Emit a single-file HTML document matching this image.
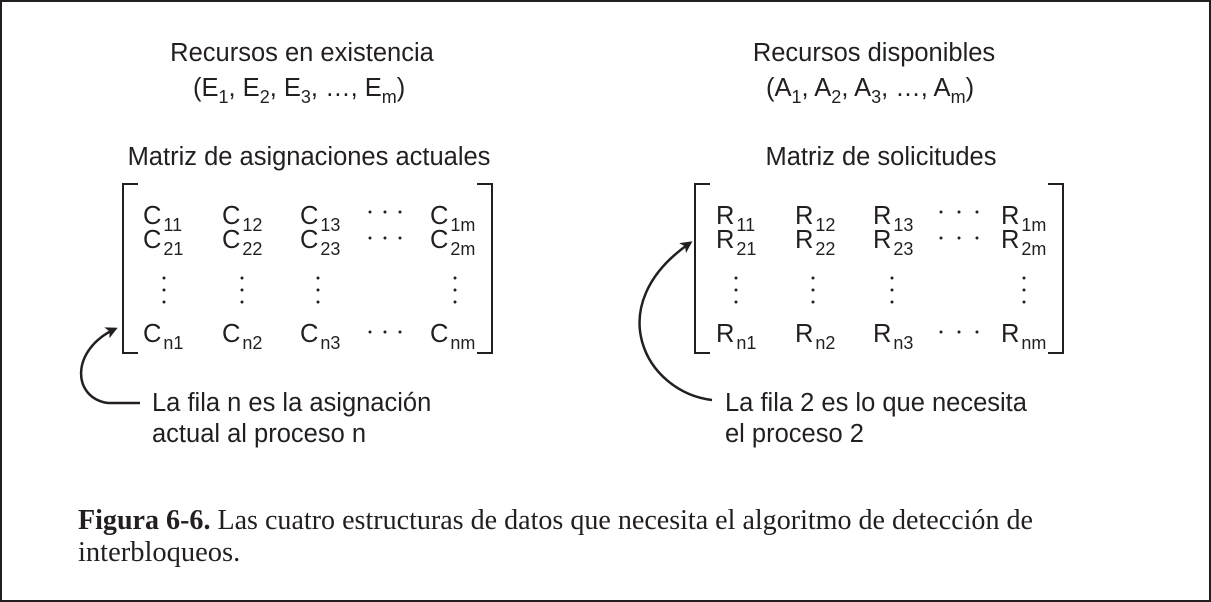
<!DOCTYPE html>
<html><head><meta charset="utf-8"><style>
html,body{margin:0;padding:0;background:#fff}
svg{display:block}
.s{font-family:"Liberation Sans",sans-serif;fill:#231f20}
.c{font-family:"Liberation Serif",serif;fill:#231f20;font-size:28.5px}
.m tspan{font-size:18px}
</style></head><body>
<svg width="1211" height="602" viewBox="0 0 1211 602" xmlns="http://www.w3.org/2000/svg">
<rect x="1" y="1" width="1209" height="600" fill="#fff" stroke="#231f20" stroke-width="2"/>
<defs><marker id="ah" markerWidth="12" markerHeight="12" refX="9" refY="6" orient="auto" markerUnits="userSpaceOnUse"><path d="M0,0 L12,6 L0,12 L3,6 Z" fill="#231f20"/></marker></defs>
<g class="s" font-size="25.5">
<text x="302" y="61" text-anchor="middle">Recursos en existencia</text>
<text x="193" y="96">(E<tspan font-size="18" dy="7">1</tspan><tspan dy="-7">, E</tspan><tspan font-size="18" dy="7">2</tspan><tspan dy="-7">, E</tspan><tspan font-size="18" dy="7">3</tspan><tspan dy="-7">, …, E</tspan><tspan font-size="18" dy="7">m</tspan><tspan dy="-7">)</tspan></text>
<text x="874" y="61" text-anchor="middle">Recursos disponibles</text>
<text x="766" y="96">(A<tspan font-size="18" dy="7">1</tspan><tspan dy="-7">, A</tspan><tspan font-size="18" dy="7">2</tspan><tspan dy="-7">, A</tspan><tspan font-size="18" dy="7">3</tspan><tspan dy="-7">, …, A</tspan><tspan font-size="18" dy="7">m</tspan><tspan dy="-7">)</tspan></text>
<text x="309" y="165" text-anchor="middle">Matriz de asignaciones actuales</text>
<text x="881" y="165" text-anchor="middle">Matriz de solicitudes</text>
<text x="152" y="411">La fila n es la asignación</text>
<text x="152" y="442">actual al proceso n</text>
<text x="725" y="411">La fila 2 es lo que necesita</text>
<text x="725" y="442">el proceso 2</text>
</g>
<g fill="none" stroke="#231f20" stroke-width="2">
<path d="M138,184 H123 V353 H138"/>
<path d="M477,184 H492 V353 H477"/>
<path d="M710,184 H695 V353 H710"/>
<path d="M1048,184 H1063 V353 H1048"/>
<path d="M140,403 H108 C72,398 70,350 115,329" marker-end="url(#ah)" stroke-width="2.5"/>
<path d="M712,400 C645,392 600,305 690,243" marker-end="url(#ah)" stroke-width="2.5"/>
</g>
<g class="s m" font-size="25.5">
<text x="143" y="224">C<tspan dx="2" dy="7">11</tspan></text>
<text x="222" y="224">C<tspan dx="2" dy="7">12</tspan></text>
<text x="300" y="224">C<tspan dx="2" dy="7">13</tspan></text>
<text x="430" y="224">C<tspan dx="2" dy="7">1m</tspan></text>
<text x="143" y="248">C<tspan dx="2" dy="7">21</tspan></text>
<text x="222" y="248">C<tspan dx="2" dy="7">22</tspan></text>
<text x="300" y="248">C<tspan dx="2" dy="7">23</tspan></text>
<text x="430" y="248">C<tspan dx="2" dy="7">2m</tspan></text>
<text x="143" y="342">C<tspan dx="2" dy="7">n1</tspan></text>
<text x="222" y="342">C<tspan dx="2" dy="7">n2</tspan></text>
<text x="300" y="342">C<tspan dx="2" dy="7">n3</tspan></text>
<text x="430" y="342">C<tspan dx="2" dy="7">nm</tspan></text>
<text x="716" y="224">R<tspan dx="2" dy="7">11</tspan></text>
<text x="795" y="224">R<tspan dx="2" dy="7">12</tspan></text>
<text x="873" y="224">R<tspan dx="2" dy="7">13</tspan></text>
<text x="1001" y="224">R<tspan dx="2" dy="7">1m</tspan></text>
<text x="716" y="248">R<tspan dx="2" dy="7">21</tspan></text>
<text x="795" y="248">R<tspan dx="2" dy="7">22</tspan></text>
<text x="873" y="248">R<tspan dx="2" dy="7">23</tspan></text>
<text x="1001" y="248">R<tspan dx="2" dy="7">2m</tspan></text>
<text x="716" y="342">R<tspan dx="2" dy="7">n1</tspan></text>
<text x="795" y="342">R<tspan dx="2" dy="7">n2</tspan></text>
<text x="873" y="342">R<tspan dx="2" dy="7">n3</tspan></text>
<text x="1001" y="342">R<tspan dx="2" dy="7">nm</tspan></text>
</g>
<g fill="#231f20">
<circle cx="370" cy="212" r="1.5"/><circle cx="385" cy="212" r="1.5"/><circle cx="400" cy="212" r="1.5"/>
<circle cx="370" cy="238" r="1.5"/><circle cx="385" cy="238" r="1.5"/><circle cx="400" cy="238" r="1.5"/>
<circle cx="370" cy="332" r="1.5"/><circle cx="385" cy="332" r="1.5"/><circle cx="400" cy="332" r="1.5"/>
<circle cx="941" cy="212" r="1.5"/><circle cx="959" cy="212" r="1.5"/><circle cx="977" cy="212" r="1.5"/>
<circle cx="941" cy="238" r="1.5"/><circle cx="959" cy="238" r="1.5"/><circle cx="977" cy="238" r="1.5"/>
<circle cx="941" cy="332" r="1.5"/><circle cx="959" cy="332" r="1.5"/><circle cx="977" cy="332" r="1.5"/>
<g id="vd"><circle cx="164" cy="278" r="1.5"/><circle cx="164" cy="290" r="1.5"/><circle cx="164" cy="302" r="1.5"/></g>
<use href="#vd" x="78"/><use href="#vd" x="154"/><use href="#vd" x="291"/>
<use href="#vd" x="572"/><use href="#vd" x="649"/><use href="#vd" x="728"/><use href="#vd" x="860"/>
</g>
<text class="c" x="78" y="529" textLength="955" lengthAdjust="spacingAndGlyphs"><tspan font-weight="bold">Figura 6-6.</tspan>  Las cuatro estructuras de datos que necesita el algoritmo de detección de</text>
<text class="c" x="78" y="561">interbloqueos.</text>
</svg>
</body></html>
